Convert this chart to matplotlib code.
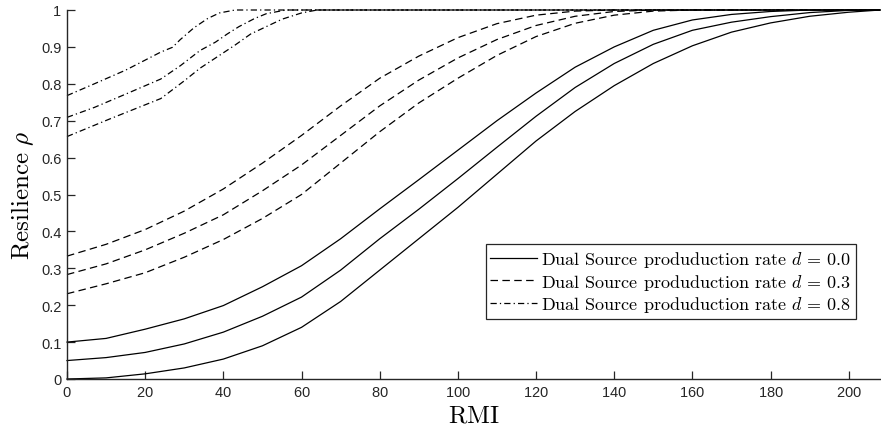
import matplotlib
matplotlib.use("Agg")
import matplotlib.pyplot as plt

# RMI sample points and resilience values
rmi = [0, 10, 20, 30, 40, 50, 60, 70, 80, 90, 100, 110, 120, 130, 140, 150,
       160, 170, 180, 190, 200, 208]

# d = 0.0 (solid)
solid_a = [0.100, 0.110, 0.135, 0.163, 0.199, 0.250, 0.307, 0.380, 0.461, 0.540, 0.620,
           0.700, 0.775, 0.845, 0.900, 0.945, 0.973, 0.988, 0.996, 1.000, 1.000, 1.000]
solid_b = [0.050, 0.058, 0.072, 0.095, 0.127, 0.170, 0.222, 0.295, 0.380, 0.460, 0.543,
           0.628, 0.712, 0.790, 0.855, 0.907, 0.945, 0.967, 0.982, 0.993, 0.999, 1.000]
solid_c = [0.000, 0.003, 0.014, 0.030, 0.054, 0.090, 0.140, 0.210, 0.295, 0.380, 0.465,
           0.555, 0.645, 0.725, 0.795, 0.855, 0.903, 0.940, 0.965, 0.983, 0.994, 1.000]

# d = 0.3 (dashed)
dash_a = [0.333, 0.365, 0.405, 0.455, 0.515, 0.585, 0.660, 0.740, 0.815, 0.875, 0.925,
          0.963, 0.986, 0.997, 1.000, 1.000, 1.000, 1.000, 1.000, 1.000, 1.000, 1.000]
dash_b = [0.283, 0.312, 0.350, 0.395, 0.445, 0.510, 0.580, 0.660, 0.740, 0.810, 0.870,
          0.920, 0.958, 0.983, 0.996, 1.000, 1.000, 1.000, 1.000, 1.000, 1.000, 1.000]
dash_c = [0.231, 0.258, 0.288, 0.330, 0.378, 0.435, 0.500, 0.585, 0.670, 0.748, 0.815,
          0.877, 0.928, 0.964, 0.986, 0.997, 1.000, 1.000, 1.000, 1.000, 1.000, 1.000]

# d = 0.8 (dash-dot), denser where the curves bend
dd_a_x = [0, 7, 15, 24, 27, 29, 32.5, 36, 39, 43, 208]
dd_a_y = [0.768, 0.800, 0.837, 0.886, 0.899, 0.920, 0.952, 0.977, 0.992, 1.000, 1.000]
dd_b_x = [0, 7, 15, 24, 29, 34, 38, 41, 44, 48, 51, 56, 208]
dd_b_y = [0.709, 0.736, 0.772, 0.813, 0.849, 0.890, 0.913, 0.935, 0.955, 0.977, 0.990, 1.000, 1.000]
dd_c_x = [0, 11, 24, 30, 34, 38, 43, 47, 51, 55, 60, 64, 208]
dd_c_y = [0.657, 0.705, 0.760, 0.808, 0.842, 0.870, 0.905, 0.935, 0.955, 0.975, 0.992, 1.000, 1.000]

labels = ["Dual Source produduction rate $d$ = 0.0",
          "Dual Source produduction rate $d$ = 0.3",
          "Dual Source produduction rate $d$ = 0.8"]

plt.rcParams["mathtext.fontset"] = "cm"
plt.rcParams["axes.formatter.use_mathtext"] = True
plt.rcParams["font.family"] = ["Liberation Sans", "DejaVu Sans"]

fig = plt.figure(figsize=(8.81, 4.31), dpi=100)
ax = fig.add_axes([67 / 881, 51 / 431, 813 / 881, 369 / 431])

lw = 0.9
line_kw = dict(color="black", linewidth=lw, clip_on=False)
dashed = (0, (6, 3.5))
dashdot = (0, (5, 2.5, 1, 2.5))

h0, = ax.plot(rmi, solid_a, "-", label=labels[0], **line_kw)
ax.plot(rmi, solid_b, "-", **line_kw)
ax.plot(rmi, solid_c, "-", **line_kw)

h1, = ax.plot(rmi, dash_a, linestyle=dashed, label=labels[1], **line_kw)
ax.plot(rmi, dash_b, linestyle=dashed, **line_kw)
ax.plot(rmi, dash_c, linestyle=dashed, **line_kw)

h2, = ax.plot(dd_a_x, dd_a_y, linestyle=dashdot, label=labels[2], **line_kw)
ax.plot(dd_b_x, dd_b_y, linestyle=dashdot, **line_kw)
ax.plot(dd_c_x, dd_c_y, linestyle=dashdot, **line_kw)

ax.set_xlim(0, 208)
ax.set_ylim(0, 1)
ax.set_xticks(range(0, 201, 20))
yt = [i / 10 for i in range(11)]
ax.set_yticks(yt)
ax.set_yticklabels(["%g" % v for v in yt])

grey = "#262626"
for side in ["top", "right"]:
    ax.spines[side].set_visible(False)
for side in ["left", "bottom"]:
    ax.spines[side].set_color(grey)
    ax.spines[side].set_linewidth(1.0)
ax.tick_params(direction="in", length=6, width=0.9, color=grey,
               labelcolor=grey, labelsize=10.5, pad=4)

ax.set_xlabel(r"$\mathrm{RMI}$", fontsize=18, labelpad=3)
ax.set_ylabel(r"$\mathrm{Resilience}\ \rho$", fontsize=18, labelpad=4)

leg = ax.legend(handles=[h0, h1, h2], loc="lower right",
                bbox_to_anchor=(0.970, 0.163),
                prop={"family": "cmr10", "size": 13}, frameon=True,
                fancybox=False, framealpha=1, edgecolor=grey,
                handlelength=2.6, handletextpad=0.2, borderpad=0.25,
                labelspacing=0.15, borderaxespad=0)
leg.get_frame().set_linewidth(0.9)

fig.savefig("out.png", dpi=100)
plt.close(fig)
